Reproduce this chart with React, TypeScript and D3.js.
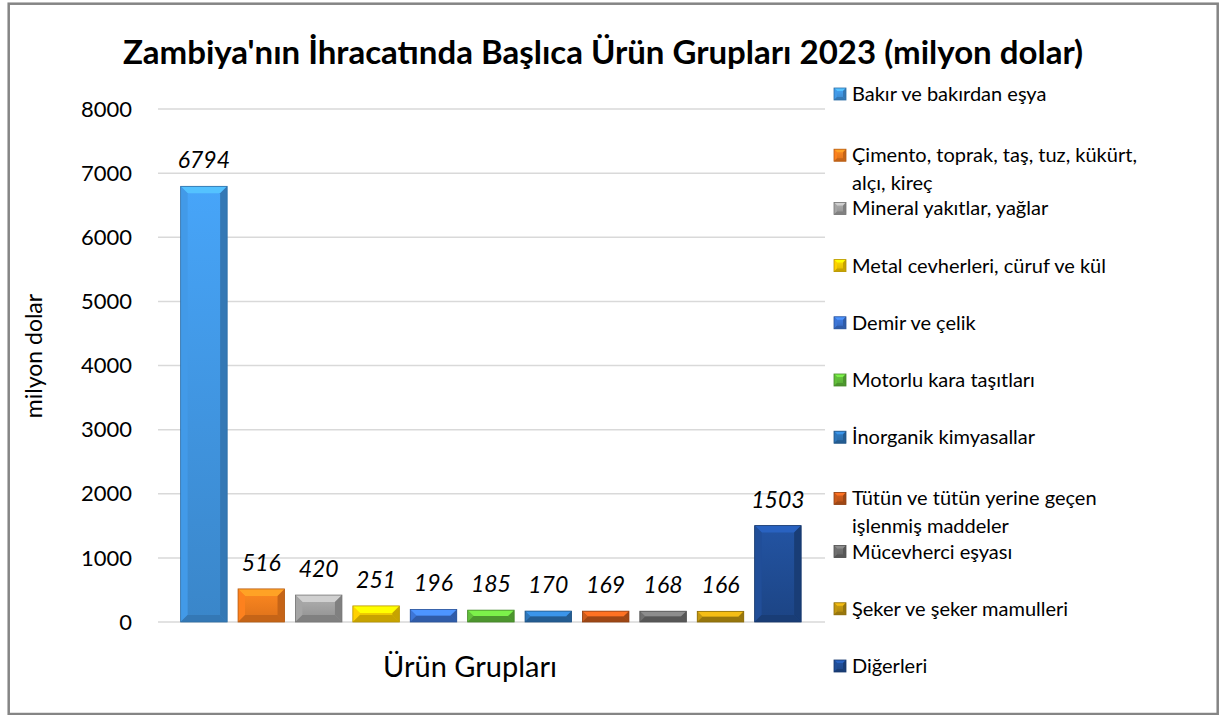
import { useEffect, useRef } from "react";
import * as d3 from "d3";

const categories = [
  "Bakır ve bakırdan eşya",
  "Çimento, toprak, taş, tuz, kükürt,\nalçı, kireç",
  "Mineral yakıtlar, yağlar",
  "Metal cevherleri, cüruf ve kül",
  "Demir ve çelik",
  "Motorlu kara taşıtları",
  "İnorganik kimyasallar",
  "Tütün ve tütün yerine geçen\nişlenmiş maddeler",
  "Mücevherci eşyası",
  "Şeker ve şeker mamulleri",
  "Diğerleri",
];
const values = [6794, 516, 420, 251, 196, 185, 170, 169, 168, 166, 1503];
const colors = [
  "#3f92dc",
  "#f07a1c",
  "#9c9c9c",
  "#f2c600",
  "#3a70cc",
  "#5db538",
  "#2c70b0",
  "#c0561a",
  "#6a6a6a",
  "#b88f10",
  "#1f4a90",
];
const yTicks = [0, 1000, 2000, 3000, 4000, 5000, 6000, 7000, 8000];

const FONT = "Lato, 'Open Sans', sans-serif";

export default function App() {
  const svgRef = useRef<SVGSVGElement>(null);

  useEffect(() => {
    if (!svgRef.current) return;
    const width = 1219;
    const height = 715;

    d3.select(svgRef.current).selectAll("*").remove();
    const svg = d3
      .select(svgRef.current)
      .attr("width", width)
      .attr("height", height)
      .attr("viewBox", `0 0 ${width} ${height}`)
      .style("font-family", FONT);

    svg.append("rect").attr("width", width).attr("height", height).attr("fill", "#fff");
    svg
      .append("rect")
      .attr("x", 8.7)
      .attr("y", 3.7)
      .attr("width", 1209)
      .attr("height", 710.3)
      .attr("fill", "none")
      .attr("stroke", "#858585")
      .attr("stroke-width", 2.5);

    const y = d3.scaleLinear().domain([0, 8000]).range([622, 109]);
    const x = d3
      .scaleBand<number>()
      .domain(values.map((_, i) => i))
      .range([175.2, 806.6])
      .paddingInner(0.19)
      .paddingOuter(0.095);

    // gridlines
    svg
      .append("g")
      .selectAll("line")
      .data(yTicks)
      .join("line")
      .attr("x1", 158)
      .attr("x2", 825)
      .attr("y1", (d) => y(d))
      .attr("y2", (d) => y(d))
      .attr("stroke", "#d9d9d9")
      .attr("stroke-width", 1.5);

    svg
      .append("g")
      .selectAll("text")
      .data(yTicks)
      .join("text")
      .attr("x", 132)
      .attr("y", (d) => y(d))
      .attr("dy", "0.35em")
      .attr("text-anchor", "end")
      .attr("font-size", 22)
      .attr("fill", "#000")
      .text((d) => String(d));

    // gradients
    const defs = svg.append("defs");
    colors.forEach((c, i) => {
      const g = defs
        .append("linearGradient")
        .attr("id", `bar-grad-${i}`)
        .attr("x1", 0)
        .attr("y1", 0)
        .attr("x2", 0)
        .attr("y2", 1);
      g.append("stop").attr("offset", "0%").attr("stop-color", d3.color(c)!.brighter(0.35).formatHex());
      g.append("stop").attr("offset", "100%").attr("stop-color", d3.color(c)!.darker(0.25).formatHex());
    });

    const bevel = (
      sel: d3.Selection<SVGGElement, unknown, null, undefined>,
      bx: number,
      by: number,
      w: number,
      h: number,
      c: string,
      i: number,
      size: number
    ) => {
      const b = Math.min(size, h / 2, w / 2);
      const light = d3.color(c)!.brighter(0.8).formatHex();
      const side = d3.color(c)!.brighter(0.15).formatHex();
      const dark = d3.color(c)!.darker(0.55).formatHex();
      const poly = (pts: number[][], fill: string) =>
        sel.append("polygon").attr("points", pts.map((p) => p.join(",")).join(" ")).attr("fill", fill);
      sel
        .append("rect")
        .attr("x", bx)
        .attr("y", by)
        .attr("width", w)
        .attr("height", h)
        .attr("fill", `url(#bar-grad-${i})`);
      poly([[bx, by], [bx + w, by], [bx + w - b, by + b], [bx + b, by + b]], light);
      poly([[bx, by], [bx + b, by + b], [bx + b, by + h - b], [bx, by + h]], side);
      poly([[bx + w, by], [bx + w, by + h], [bx + w - b, by + h - b], [bx + w - b, by + b]], dark);
      poly([[bx, by + h], [bx + w, by + h], [bx + w - b, by + h - b], [bx + b, by + h - b]], dark);
      sel
        .append("rect")
        .attr("x", bx)
        .attr("y", by)
        .attr("width", w)
        .attr("height", h)
        .attr("fill", "none")
        .attr("stroke", d3.color(c)!.darker(0.8).formatHex())
        .attr("stroke-width", 0.8);
    };

    // bars
    const bars = svg.append("g");
    values.forEach((v, i) => {
      const g = bars.append("g");
      bevel(g, x(i)!, y(v), x.bandwidth(), y(0) - y(v), colors[i], i, 7);
    });

    // value labels
    svg
      .append("g")
      .selectAll("text")
      .data(values)
      .join("text")
      .attr("x", (_, i) => x(i)! + x.bandwidth() / 2)
      .attr("y", (d) => y(d) - 18)
      .attr("text-anchor", "middle")
      .attr("font-size", 23)
      .attr("font-style", "italic")
      .attr("fill", "#000")
      .text((d) => String(d));

    // title
    svg
      .append("text")
      .attr("x", 603)
      .attr("y", 64)
      .attr("text-anchor", "middle")
      .attr("font-size", 33)
      .attr("font-weight", "bold")
      .attr("fill", "#000")
      .text("Zambiya'nın İhracatında Başlıca Ürün Grupları 2023 (milyon dolar)");

    // axis titles
    svg
      .append("text")
      .attr("x", 470)
      .attr("y", 677)
      .attr("text-anchor", "middle")
      .attr("font-size", 29)
      .attr("fill", "#000")
      .text("Ürün Grupları");

    svg
      .append("text")
      .attr("transform", "translate(42,356) rotate(-90)")
      .attr("text-anchor", "middle")
      .attr("font-size", 23)
      .attr("fill", "#000")
      .text("milyon dolar");

    // legend
    const ly = d3
      .scalePoint<number>()
      .domain(categories.map((_, i) => i))
      .range([94, 666]);
    const legend = svg.append("g");
    categories.forEach((cat, i) => {
      const lines = cat.split("\n");
      const cy = ly(i)! + (lines.length > 1 ? 4 : 0);
      const g = legend.append("g");
      bevel(g, 834, cy - 6, 12, 12, colors[i], i, 3);
      lines.forEach((ln, k) => {
        g.append("text")
          .attr("x", 852)
          .attr("y", cy + k * 28)
          .attr("dy", "0.35em")
          .attr("font-size", 20)
          .attr("fill", "#000")
          .text(ln);
      });
    });
  }, []);

  return (
    <svg
      ref={svgRef}
      style={{ position: "absolute", left: 0, top: 0, display: "block" }}
    />
  );
}
